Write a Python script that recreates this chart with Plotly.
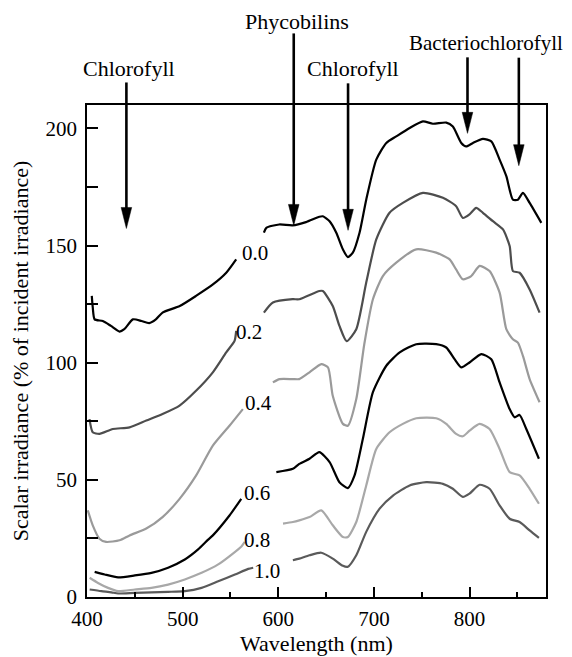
import plotly.graph_objects as go

# ---------------- data ----------------
depth_labels = ["0.0", "0.2", "0.4", "0.6", "0.8", "1.0"]

# each curve: wavelength list and values list; None marks the gap in the spectrum
wl_00 = [405, 406, 408, 416.5, 425, 434, 439, 448, 457, 465, 472, 479, 497, 514, 532, 545.6, 556, None,
         585, 587.5, 601, 615, 629, 643, 646.6, 653.7, 660.7, 667.6, 672.8, 678, 685, 692, 702.5, 713, 723.4,
         737.4, 751.3, 761.7, 775.7, 782.6, 791.4, 796.6, 803.6, 814, 822.8, 831.5, 838.5, 845.4, 850.6,
         855.9, 862.9, 875.1]
val_00 = [128.5, 123.7, 118.5, 117.8, 115.7, 113.3, 114.3, 118.5, 117.8, 116.9, 118.5, 121.4, 124.2, 128.5, 133.5,
          138.4, 144.1, None,
          155.5, 157.6, 159, 158.6, 160, 162.3, 162.5, 160.4, 155.5, 148.4, 145.1, 147, 155.5, 169.6, 186.7, 193.8,
          196.6, 200.2, 203, 202, 202.5, 200.8, 193.8, 192.3, 193.8, 195.5, 194.5, 186.7, 179.6, 169.6, 169.6,
          172.5, 168.2, 159.7]

wl_02 = [402.6, 406, 413, 427, 444.5, 462, 479, 496.8, 514, 531.6, 545.6, 554.3, 556, None,
         585, 594.4, 615, 622, 643, 646.6, 657, 664, 671.5, 681.6, 692, 702.5, 716.4, 730.3, 751.3, 772.2, 786,
         793, 800, 807, 814, 824.5, 835, 842, 845.4, 852.4, 862.9, 873.3]
val_02 = [75.9, 70.3, 69.6, 71.7, 72.4, 75.3, 78.1, 81.7, 88, 95.9, 104.4, 109.3, 113.6, None,
          121.4, 125.7, 127.1, 127.1, 130.6, 130.6, 124.2, 115.7, 109.2, 114.3, 134.2, 152.6, 164, 168.2, 172.5,
          170.4, 166.8, 161.8, 163.3, 166.1, 164, 160.4, 156.9, 149.8, 139.1, 138.4, 131.3, 121.4]

wl_04 = [400.8, 406, 413, 420, 434, 444.5, 462, 479, 496.8, 514, 531.6, 549, 563, None,
         594.4, 601.4, 615.3, 622, 632.7, 645, 652, 657, 667.6, 672.8, 681.6, 690, 699, 709.4, 723.4, 744.3,
         765.2, 779.2, 786, 793, 801.8, 810.6, 821, 831.5, 838.5, 845.4, 850.6, 855.9, 862.9, 873.3]
val_04 = [37, 30.6, 24.9, 23.5, 24.2, 26.3, 29.2, 34.1, 41.9, 51.8, 64.6, 73.1, 80.2, None,
          91.6, 93, 93, 93, 95.9, 99.4, 98, 85.9, 73.9, 73.1, 84.5, 108, 127.1, 137, 142.7, 148.4,
          147, 144.1, 139.8, 135.6, 137, 141.3, 139.1, 129.9, 114.3, 110, 108.6, 102.9, 93, 83.1]

wl_06 = [408, 418.5, 432.5, 450, 467.4, 484.8, 502.3, 516.2, 526.7, 531.6, 549, 561.3, None,
         598, 615.3, 622, 632.7, 643, 653.7, 664, 672.8, 679.8, 688.5, 699, 713, 727, 744.3, 765.2, 775.7,
         784.4, 791.4, 800, 812.3, 822.8, 831.5, 842, 847.2, 852.4, 859.4, 872.6]
val_06 = [10.7, 9.6, 8.4, 9.2, 10.3, 12.5, 16, 20.3, 24.5, 26.3, 34.8, 41.9, None,
          53.3, 54.7, 56.8, 59, 61.8, 57.6, 49, 46.5, 51.9, 67.5, 87.4, 98.7, 104.4, 107.9, 107.9, 106.5,
          101.5, 98, 100.1, 103.7, 101.5, 91.6, 80.2, 76.7, 77.7, 71.7, 59]

wl_08 = [402.8, 411.5, 422, 432.5, 450, 467.4, 484.8, 502.3, 519.8, 537.2, 551.2, 561.7, 565, None,
         605, 615.3, 622, 632.7, 645, 657, 667.6, 672.8, 681.6, 692, 702.5, 716.4, 730.3, 744.3, 765.2, 775.7,
         786, 793, 800, 810.6, 821, 831.5, 842, 852.4, 862.9, 872.6]
val_08 = [8.2, 6, 3.9, 2.5, 3.2, 3.9, 5.3, 7.5, 10.3, 13.9, 18.1, 21.7, 23.5, None,
          31.3, 32, 32.7, 34.1, 37, 30.6, 25.6, 25.6, 32, 47.6, 63.2, 70.3, 73.9, 76.3, 76.3, 73.9,
          69.6, 68.6, 71, 73.9, 71.7, 63.2, 53.3, 51.9, 46.2, 39.8]

wl_10 = [402.8, 415, 425.5, 432.5, 450, 467.4, 484.8, 502.3, 519.8, 537.2, 554.7, 568.6, 573.8, None,
         615.3, 622, 632.7, 645, 657, 667.6, 672.8, 681.6, 692, 706, 720, 737.4, 754.8, 772.2, 782.6, 793,
         800, 810.6, 821, 831.5, 842, 852.4, 862.9, 872.6]
val_10 = [3.2, 2.5, 2, 1.5, 1.8, 2, 2.2, 2.5, 3.9, 6.7, 9.6, 12, 12.5, None,
          15.7, 16.4, 17.8, 18.9, 16.4, 13.3, 12.9, 17.8, 27.8, 37.7, 43.3, 47.6, 49, 48.3, 46.2, 42.7,
          44.1, 47.9, 46.2, 39.1, 33.4, 32, 28.4, 25.2]

x_ticks = [400, 500, 600, 700, 800]
y_ticks = [0, 50, 100, 150, 200]

pigments = ["Chlorofyll", "Phycobilins", "Chlorofyll", "Bacteriochlorofyll"]

# ---------------- figure ----------------
FONT = '"Liberation Serif", "Times New Roman", Times, serif'
X0, X1 = 400, 880
Y0, Y1 = 0, 210
OFF = 8                      # page body margin of the browser
W, H = 572 - OFF, 657 - OFF
L, R, T, B = 87 - OFF, 26, 105 - OFF, 60
PW = W - L - R
PH = H - T - B

series = [(wl_00, val_00, "#000000"), (wl_02, val_02, "#4d4d4d"), (wl_04, val_04, "#9a9a9a"),
          (wl_06, val_06, "#000000"), (wl_08, val_08, "#a8a8a8"), (wl_10, val_10, "#5a5a5a")]

fig = go.Figure()
for (xs, ys, col), lab in zip(series, depth_labels):
    fig.add_trace(go.Scatter(x=xs, y=ys, mode="lines", name=lab, connectgaps=False,
                             line=dict(color=col, width=2.2, shape="spline", smoothing=0.6),
                             showlegend=False, hoverinfo="skip"))

# curve labels (placed at the end of the first segment of each curve)
label_pos = [(575.6, 146.9), (569.3, 113.2), (579.8, 83.0), (577.4, 44.4), (577.7, 24.5), (587.9, 11.0)]
annotations = []
for lab, (lx, ly) in zip(depth_labels, label_pos):
    annotations.append(dict(x=lx, y=ly, xref="x", yref="y", text=lab, showarrow=False,
                            font=dict(family=FONT, size=21, color="black"),
                            xanchor="center", yanchor="middle"))


def xpaper(v):
    return (v - X0) / (X1 - X0)


def ypaper(v):
    return (v - Y0) / (Y1 - Y0)


def ypaper_px(py):
    # py: pixel row in the browser window
    return (H - B - (py - OFF)) / PH


# pigment labels (pixel rows above the plot)
pig_pos = [(444.4, 69, 22), (619.6, 21, 22), (678.2, 68, 22), (817.0, 43, 21)]
for txt, (tx, py, fs) in zip(pigments, pig_pos):
    annotations.append(dict(x=xpaper(tx), y=ypaper_px(py), xref="paper", yref="paper", text=txt,
                            showarrow=False, font=dict(family=FONT, size=fs, color="black"),
                            xanchor="center", yanchor="middle"))

# arrows: tip (data) and length in pixels
arrows = [(441.2, 157.3, 146), (616.2, 158.6, 192), (673.0, 156.5, 147), (797.9, 197.9, 76), (851.6, 184.1, 108)]
shapes = []
HEAD_L, HEAD_W = 21, 5.3
for ax_, ay_, ln in arrows:
    common = dict(xref="paper", yref="paper", xsizemode="pixel", ysizemode="pixel",
                  xanchor=xpaper(ax_), yanchor=ypaper(ay_))
    shapes.append(dict(type="line", x0=0, x1=0, y0=HEAD_L - 2, y1=ln,
                       line=dict(color="black", width=2.6), **common))
    shapes.append(dict(type="path", path=f"M0,0 L{-HEAD_W},{HEAD_L} L{HEAD_W},{HEAD_L} Z",
                       fillcolor="black", line=dict(color="black", width=0.5), **common))

axis_common = dict(showgrid=False, zeroline=False, showline=True, mirror=True, linecolor="black",
                   linewidth=1.5, ticks="inside", tickcolor="black", tickwidth=1.5, automargin=False,
                   tickfont=dict(family=FONT, size=21, color="black"))

fig.update_layout(
    width=W, height=H,
    margin=dict(l=L, r=R, t=T, b=B, autoexpand=False),
    paper_bgcolor="white", plot_bgcolor="white",
    font=dict(family=FONT, color="black"),
    annotations=annotations, shapes=shapes,
    xaxis=dict(range=[X0, X1], tickvals=x_ticks, ticklen=10, ticklabelstandoff=2,
               minor=dict(dtick=50, tick0=400, ticklen=5, ticks="inside", tickcolor="black", tickwidth=1.5,
                          showgrid=False),
               title=dict(text="Wavelength (nm)", font=dict(family=FONT, size=22, color="black"), standoff=6),
               **axis_common),
    yaxis=dict(range=[Y0, Y1], tickvals=y_ticks, ticklen=11, ticklabelstandoff=4,
               minor=dict(dtick=25, tick0=0, ticklen=11, ticks="inside", tickcolor="black", tickwidth=1.5,
                          showgrid=False),
               title=dict(text="Scalar irradiance (% of incident irradiance)",
                          font=dict(family=FONT, size=22, color="black"), standoff=12),
               **axis_common),
)

fig.write_html("out.html")
